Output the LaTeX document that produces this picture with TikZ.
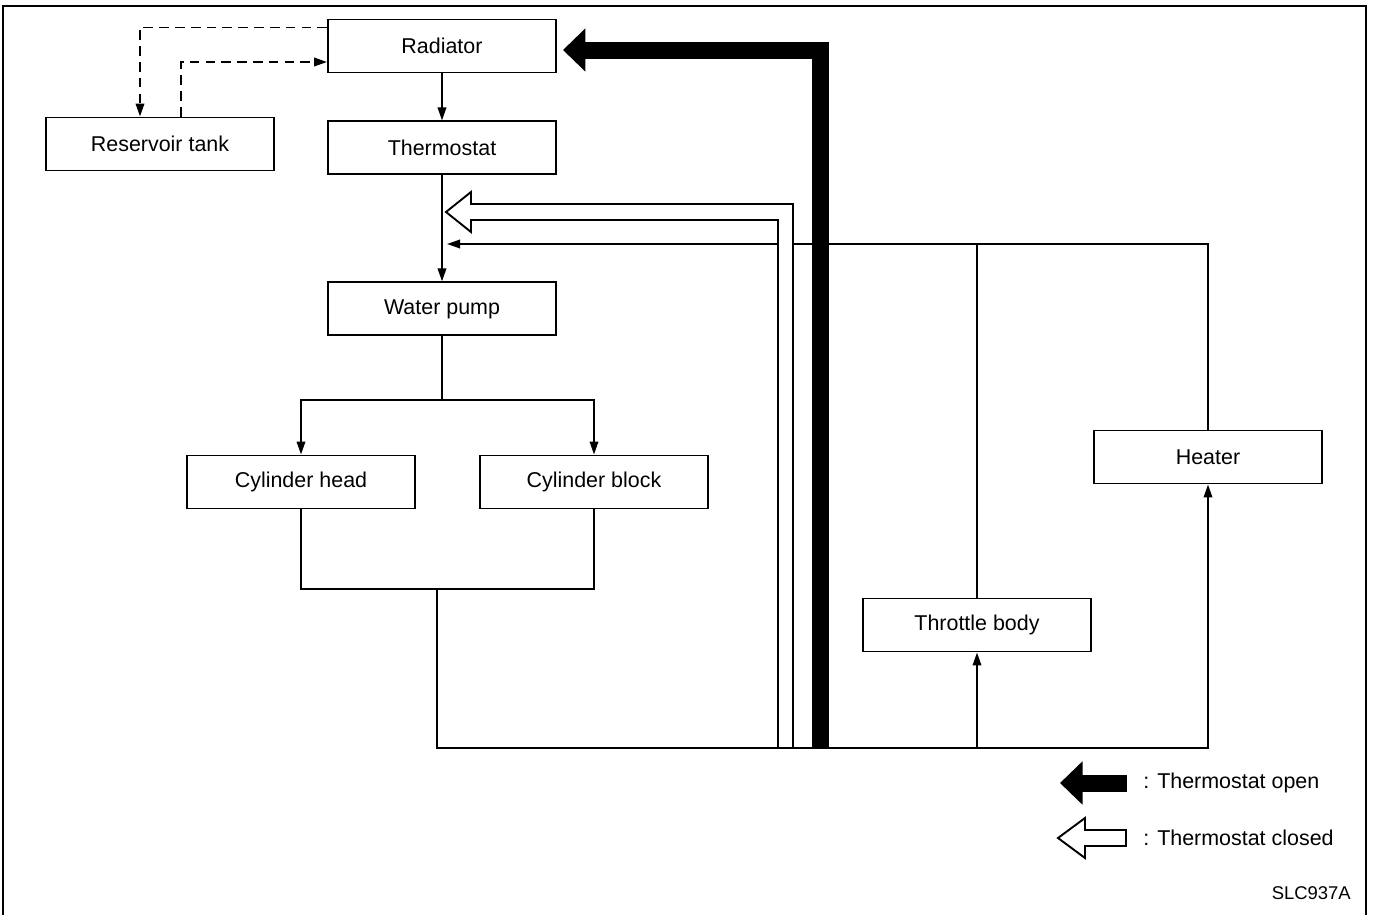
\documentclass[tikz,border=0pt]{standalone}
\usepackage{fontspec}
\setmainfont{Liberation Sans}
\usepackage{tikz}
\usetikzlibrary{%
	calc,%
	arrows.meta,%
	positioning,%
}
\tikzset{
	>={Triangle[length=0.26cm,width=0.17cm]},%
	nodes={align=center},%
	part/.style={%
			draw,%
			rectangle,%
			line width=1.1pt,%
			minimum width=4.56cm,%
			minimum height=1.06cm,%
			inner sep=0pt,%
			fill=white,%
			font=\fontsize{12.2}{14}\selectfont},%
	flow/.style={%
			line width=1.1pt},%
	overflow/.style={%
			line width=1.1pt,%
			dash pattern=on 5.5pt off 3.5pt},%
	openarrow/.style={%
			line width=0.34cm,%
			-{Triangle[length=0.45cm,width=0.84cm]}},%
	closedarrow/.style={%
			draw,%
			line width=1.1pt,%
			fill=white,%
			line join=miter},%
	keytext/.style={%
			anchor=west,%
			inner sep=0pt,%
			font=\fontsize{12.2}{14}\selectfont},%
}

\begin{document}
\begin{tikzpicture}
	\useasboundingbox (0,0) rectangle (27.62,-18.3);
	\draw[line width=1.2pt] (0.06,-18.3) -- (0.06,-0.12) -- (27.32,-0.12) -- (27.32,-18.3);

	\node[part] (radiator) at (8.84,-0.92) {Radiator};
	\node[part] (reservoir) at (3.2,-2.88) {Reservoir tank};
	\node[part] (thermostat) [below=0.94cm of radiator] {Thermostat};
	\node[part] (pump) [below=2.12cm of thermostat] {Water pump};
	\node[part] (head) at (6.02,-9.64) {Cylinder head};
	\node[part] (block) at (11.88,-9.64) {Cylinder block};
	\node[part] (heater) at (24.16,-9.14) {Heater};
	\node[part] (throttle) at (19.54,-12.5) {Throttle body};

	\coordinate (split) at ([yshift=-1.28cm]pump.south);
	\coordinate (merge) at (8.74,-11.78);
	\coordinate (busL) at (8.74,-14.96);
	\coordinate (ret) at (0,-4.88);

	\draw[flow,->] (radiator) -- (thermostat);
	\draw[overflow,->] ([yshift=-0.18cm]radiator.north west) -| ([xshift=-0.4cm]reservoir.north);
	\draw[overflow,->] ([xshift=0.42cm]reservoir.north) |- ([yshift=-0.32cm]radiator.west);
	\draw[flow,->] (thermostat) -- (pump);
	\draw[flow] (pump) -- (split);
	\draw[flow,->] (split) -| (head);
	\draw[flow,->] (split) -| (block);
	\draw[flow] (head) |- (merge) -| (block);
	\draw[flow,->] (merge) -- (busL) -| (heater);
	\draw[flow,->] (throttle |- busL) -- (throttle);
	\draw[flow] (throttle) -- (throttle |- ret);
	\draw[flow,->] (heater) |- ([xshift=0.1cm]thermostat |- ret);

	% thermostat closed
	\coordinate (closedtip) at ([xshift=0.08cm]thermostat |- 0,-4.24);
	\draw[closedarrow] (closedtip) -- ++(0.5,0.4) -- ++(0,-0.24) -- (15.86,-4.08) -- (15.86,-14.96) -- (15.56,-14.96) -- (15.56,-4.4) -- (9.42,-4.4) -- (9.42,-4.64) -- cycle;

	% thermostat open
	\draw[openarrow, shorten >=0.12cm] (16.4,-14.96) |- ([yshift=-0.08cm]radiator.east);

	\node[keytext] (openkey) at (22.86,-15.66) {: Thermostat open};
	\node[keytext] (closedkey) at (22.86,-16.76) {: Thermostat closed};
	\draw[openarrow] ([xshift=-0.32cm]openkey.west) -- ++(-1.34,0);
	\draw[closedarrow] ([xshift=-1.7cm]closedkey.west) -- ++(0.54,0.4) -- ++(0,-0.24) -- ++(0.82,0) -- ++(0,-0.32) -- ++(-0.82,0) -- ++(0,-0.24) -- cycle;
	\node[anchor=east, font=\fontsize{10.5}{12}\selectfont] (code) at (27.14,-17.86) {SLC937A};
\end{tikzpicture}
\end{document}
